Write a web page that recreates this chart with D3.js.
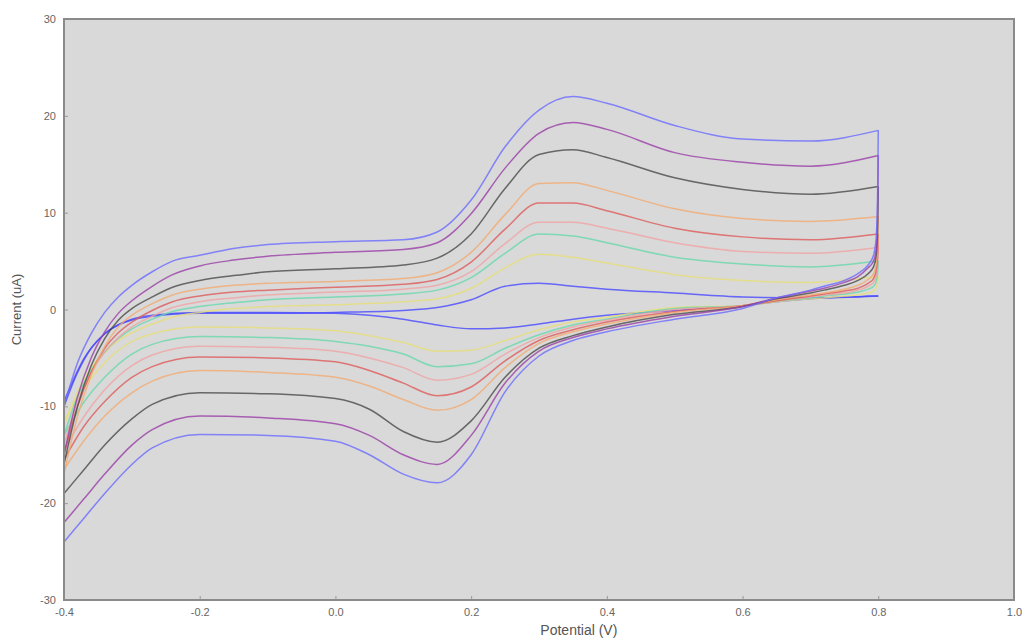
<!DOCTYPE html>
<html>
<head>
<meta charset="utf-8">
<script src="https://cdn.jsdelivr.net/npm/d3@7"></script>
<style>
  body { margin: 0; background: #fff; }
  #wrapper { width: 1023px; height: 640px; }
</style>
</head>
<body>
<div id="wrapper"></div>
<script>
// potentials (V) for the forward (upper) and reverse (lower) branches
const upperV = [-0.4, -0.38, -0.36, -0.34, -0.32, -0.3, -0.27, -0.24, -0.2, -0.15, -0.1, 0.0, 0.1, 0.15, 0.2, 0.25, 0.3, 0.35, 0.4, 0.5, 0.6, 0.7, 0.8]
const lowerV = [0.799, 0.797, 0.793, 0.785, 0.77, 0.75, 0.72, 0.7, 0.65, 0.6, 0.5, 0.4, 0.35, 0.3, 0.25, 0.2, 0.15, 0.1, 0.05, 0.0, -0.1, -0.2, -0.27, -0.3, -0.34, -0.37, -0.4]

// currents (uA)
const blueUp    = [-10.0, -5.5, -2.5, -0.3, 1.3, 2.5, 3.9, 5.0, 5.6, 6.3, 6.7, 7.0, 7.2, 8.0, 11.3, 16.8, 20.6, 22.0, 21.3, 19.0, 17.6, 17.4, 18.5]
const blueDown  = [12.0, 7.5, 5.6, 4.6, 3.7, 3.0, 2.4, 2.0, 1.2, 0.1, -1.0, -2.3, -3.2, -4.8, -8.5, -15.0, -17.9, -17.0, -15.0, -13.6, -13.0, -12.9, -14.3, -16.0, -19.0, -21.5, -24.0]
const purpleUp  = [-15.0, -9.0, -5.0, -2.3, -0.4, 0.9, 2.4, 3.6, 4.5, 5.1, 5.5, 5.9, 6.2, 6.9, 9.9, 14.6, 18.2, 19.3, 18.6, 16.2, 15.2, 14.8, 15.9]
const purpleDown= [10.0, 6.3, 5.0, 4.3, 3.4, 2.8, 2.2, 1.9, 1.2, 0.3, -0.7, -2.0, -2.9, -4.3, -7.6, -13.0, -16.0, -15.0, -13.0, -11.8, -11.2, -11.0, -12.4, -14.0, -17.0, -19.5, -22.0]
const blackUp   = [-16.0, -10.0, -5.8, -3.0, -1.1, 0.1, 1.3, 2.3, 3.0, 3.5, 3.9, 4.2, 4.6, 5.3, 7.8, 12.5, 16.0, 16.5, 15.7, 13.6, 12.4, 11.9, 12.7]
const blackDown = [8.2, 5.6, 4.4, 3.7, 3.0, 2.5, 2.0, 1.7, 1.1, 0.3, -0.5, -1.8, -2.7, -4.0, -7.0, -11.5, -13.7, -12.6, -10.3, -9.2, -8.7, -8.6, -9.8, -11.3, -14.0, -16.5, -19.0]
const orangeUp  = [-17.0, -11.0, -6.8, -3.8, -1.8, -0.6, 0.6, 1.5, 2.1, 2.5, 2.7, 2.9, 3.2, 3.8, 5.9, 9.8, 13.0, 13.1, 12.3, 10.4, 9.4, 9.1, 9.6]
const orangeDown= [6.5, 4.7, 3.7, 3.1, 2.5, 2.1, 1.7, 1.5, 1.0, 0.4, -0.3, -1.5, -2.3, -3.5, -6.0, -9.3, -10.4, -9.3, -7.9, -7.0, -6.5, -6.3, -7.4, -8.6, -11.0, -13.5, -16.5]
const redUp     = [-15.0, -10.0, -6.5, -4.0, -2.4, -1.3, -0.1, 0.8, 1.4, 1.8, 2.0, 2.3, 2.6, 3.1, 4.9, 8.3, 11.0, 11.0, 10.2, 8.4, 7.5, 7.2, 7.8]
const redDown   = [5.5, 4.1, 3.2, 2.7, 2.2, 1.9, 1.6, 1.4, 0.9, 0.4, -0.2, -1.3, -2.1, -3.2, -5.3, -8.0, -8.9, -7.6, -6.3, -5.4, -5.0, -4.9, -5.9, -7.0, -9.5, -12.0, -15.5]
const salmonUp  = [-14.0, -9.5, -6.5, -4.4, -2.9, -1.8, -0.7, 0.2, 0.8, 1.2, 1.5, 1.8, 2.1, 2.5, 3.9, 6.8, 9.0, 9.0, 8.4, 6.9, 6.0, 5.8, 6.4]
const salmonDown= [4.6, 3.5, 2.8, 2.4, 2.0, 1.7, 1.5, 1.3, 0.9, 0.4, 0.0, -1.1, -1.8, -2.9, -4.6, -6.7, -7.3, -6.0, -5.0, -4.3, -3.9, -3.8, -4.7, -5.8, -8.3, -11.0, -14.5]
const greenUp   = [-13.0, -9.0, -6.3, -4.4, -3.0, -2.0, -1.0, -0.2, 0.3, 0.7, 1.0, 1.3, 1.6, 2.0, 3.3, 5.8, 7.8, 7.6, 6.9, 5.4, 4.7, 4.4, 5.0]
const greenDown = [3.8, 2.9, 2.4, 2.1, 1.8, 1.6, 1.4, 1.2, 0.9, 0.4, 0.1, -1.0, -1.6, -2.6, -4.0, -5.6, -5.9, -4.6, -3.8, -3.3, -2.9, -2.8, -3.6, -4.6, -7.0, -9.5, -13.0]
const yellowUp  = [-12.0, -8.5, -6.0, -4.4, -3.2, -2.4, -1.5, -0.8, -0.3, 0.1, 0.3, 0.5, 0.8, 1.1, 2.2, 4.3, 5.7, 5.4, 4.8, 3.6, 3.0, 2.8, 3.4]
const yellowDown= [2.8, 2.3, 1.9, 1.7, 1.5, 1.4, 1.2, 1.1, 0.8, 0.4, 0.2, -0.8, -1.3, -2.1, -3.2, -4.2, -4.3, -3.4, -2.7, -2.2, -1.9, -1.8, -2.5, -3.3, -5.5, -8.0, -11.5]
const lowUp     = [-10.0, -6.5, -4.0, -2.5, -1.6, -1.1, -0.7, -0.5, -0.4, -0.4, -0.4, -0.3, -0.1, 0.2, 1.0, 2.4, 2.7, 2.4, 2.1, 1.7, 1.3, 1.2, 1.4]
const lowDown   = [1.4, 1.4, 1.4, 1.4, 1.3, 1.3, 1.2, 1.1, 0.8, 0.4, -0.1, -0.6, -1.0, -1.5, -1.9, -2.0, -1.6, -1.0, -0.6, -0.4, -0.3, -0.3, -0.6, -1.0, -2.5, -5.0, -9.5]

const xTicks = [-0.4, -0.2, 0.0, 0.2, 0.4, 0.6, 0.8, 1.0]
const yTicks = [-30, -20, -10, 0, 10, 20, 30]

async function drawChart() {

  // 1. Access data
  const curves = [
    {name: "low",    color: "#4848ff", up: lowUp,    down: lowDown},
    {name: "yellow", color: "#e6df78", up: yellowUp, down: yellowDown},
    {name: "green",  color: "#66d8aa", up: greenUp,  down: greenDown},
    {name: "salmon", color: "#f0a2a2", up: salmonUp, down: salmonDown},
    {name: "red",    color: "#df5a5a", up: redUp,    down: redDown},
    {name: "orange", color: "#f3aa70", up: orangeUp, down: orangeDown},
    {name: "black",  color: "#4a4a4a", up: blackUp,  down: blackDown},
    {name: "purple", color: "#9a3ea8", up: purpleUp, down: purpleDown},
    {name: "blue",   color: "#6c6cff", up: blueUp,   down: blueDown},
  ]
  // each cycle split in two branches, both sorted by potential
  const branches = []
  curves.forEach(c => {
    const top = [upperV[upperV.length - 1], c.up[c.up.length - 1]]
    branches.push({color: c.color, points: upperV.map((v, i) => [v, c.up[i]])})
    branches.push({color: c.color, points: lowerV.map((v, i) => [v, c.down[i]]).reverse().concat([top])})
  })

  // 2. Create chart dimensions
  let dimensions = {
    width: 1023,
    height: 640,
    margin: {top: 19, right: 9, bottom: 40, left: 64},
  }
  dimensions.boundedWidth = dimensions.width - dimensions.margin.left - dimensions.margin.right
  dimensions.boundedHeight = dimensions.height - dimensions.margin.top - dimensions.margin.bottom

  // 3. Draw canvas
  const wrapper = d3.select("#wrapper")
    .append("svg")
      .attr("width", dimensions.width)
      .attr("height", dimensions.height)
      .style("font-family", "Liberation Sans, Arial, sans-serif")

  const bounds = wrapper.append("g")
      .attr("transform", `translate(${dimensions.margin.left},${dimensions.margin.top})`)

  // 4. Create scales
  const xScale = d3.scaleLinear()
    .domain([-0.4, 1.0])
    .range([0, dimensions.boundedWidth])
  const yScale = d3.scaleLinear()
    .domain([-30, 30])
    .range([dimensions.boundedHeight, 0])

  bounds.append("rect")
      .attr("width", dimensions.boundedWidth)
      .attr("height", dimensions.boundedHeight)
      .attr("fill", "#d9d9d9")

  // 5. Draw data
  const line = d3.line()
    .curve(d3.curveMonotoneX)
    .x(d => xScale(d[0]))
    .y(d => yScale(d[1]))

  bounds.append("g").selectAll("path")
    .data(branches)
    .join("path")
      .attr("d", d => line(d.points))
      .attr("fill", "none")
      .attr("stroke", d => d.color)
      .attr("stroke-width", 1.5)
      .attr("stroke-opacity", 0.8)
      .attr("stroke-linejoin", "round")

  // 6. Draw peripherals
  const xAxis = d3.axisBottom(xScale)
    .tickValues(xTicks)
    .tickFormat(d => d3.format(".1f")(d).replace("−", "-"))
    .tickSizeInner(-4)
    .tickSizeOuter(0)
    .tickPadding(8)
  const yAxis = d3.axisLeft(yScale)
    .tickValues(yTicks)
    .tickFormat(d => d3.format("d")(d).replace("−", "-"))
    .tickSizeInner(-4)
    .tickSizeOuter(0)
    .tickPadding(8)

  const xAxisG = bounds.append("g")
    .attr("transform", `translate(0,${dimensions.boundedHeight})`)
    .call(xAxis)
  const yAxisG = bounds.append("g").call(yAxis)

  ;[xAxisG, yAxisG].forEach(g => {
    g.select(".domain").remove()
    g.selectAll(".tick line").attr("stroke", "#999")
    g.selectAll(".tick text")
      .attr("fill", "#666")
      .style("font-size", "11px")
  })

  bounds.append("rect")
      .attr("width", dimensions.boundedWidth)
      .attr("height", dimensions.boundedHeight)
      .attr("fill", "none")
      .attr("stroke", "#8a8a8a")
      .attr("stroke-width", 2)

  wrapper.append("text")
      .attr("x", dimensions.margin.left + xScale(0.4) - 28)
      .attr("y", 635)
      .attr("text-anchor", "middle")
      .attr("fill", "#555")
      .style("font-size", "14px")
      .text("Potential (V)")

  wrapper.append("text")
      .attr("transform", `translate(21,${dimensions.margin.top + yScale(0)}) rotate(-90)`)
      .attr("text-anchor", "middle")
      .attr("fill", "#555")
      .style("font-size", "13px")
      .text("Current (uA)")
}

drawChart()
</script>
</body>
</html>
